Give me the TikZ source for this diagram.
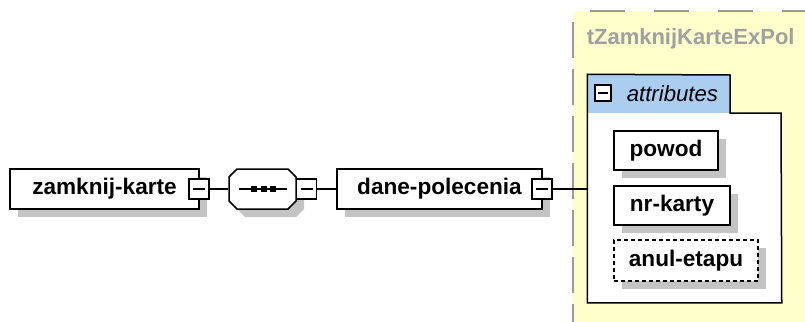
\documentclass[tikz,border=0pt]{standalone}
\usepackage{fontspec}
\setmainfont{Liberation Sans}
\usetikzlibrary{shadows}
\definecolor{shadowgray}{HTML}{C4C4C4}
\definecolor{yellowbg}{HTML}{FFFFCC}
\definecolor{tabblue}{HTML}{ABCDF0}
\definecolor{framegray}{HTML}{9A9A9A}
\definecolor{titlegray}{HTML}{A0A0A0}
\begin{document}
\begin{tikzpicture}[x=1pt,y=-1pt,line width=1.5pt,
  elbox/.style={draw, fill=white, inner sep=0, minimum height=40pt,
    font=\fontsize{22.6}{26}\selectfont\bfseries,
    drop shadow={shadow xshift=8pt, shadow yshift=-8pt, fill=shadowgray, opacity=1}},
  optbox/.style={elbox, dash pattern=on 4pt off 3pt},
  minusbox/.style={draw, fill=white, inner sep=0, minimum size=20pt,
    path picture={\draw[line width=1.2pt]
      ([xshift=-6pt]path picture bounding box.center) --
      ([xshift=6pt]path picture bounding box.center);}},
  tabminus/.style={draw, fill=white, inner sep=0, minimum size=16pt,
    path picture={\draw[line width=1.2pt]
      ([xshift=-5pt]path picture bounding box.center) --
      ([xshift=5pt]path picture bounding box.center);}},
]
\useasboundingbox (0,0) rectangle (805,321);
\fill[white] (0,0) rectangle (805,321);

% complex type area
\fill[yellowbg] (573,11) rectangle (830,340);
\draw[framegray, line width=2pt, dash pattern=on 36pt off 11pt] (573,340) -- (573,11);
\draw[framegray, line width=2pt, dash pattern=on 0pt off 17pt on 35pt off 12pt] (573,11) -- (830,11);
\node[anchor=base west, text=titlegray, font=\fontsize{22}{26}\selectfont\bfseries, inner sep=0] (title) at (586,45) {tZamknijKarteExPol};

% attributes group
\node[inner sep=0, minimum width=193pt, minimum height=227pt] (attrs) at (684.5,188.5) {};
\fill[tabblue] (588,75) rectangle (730,113);
\fill[white] (588,113) rectangle (781,302);
\draw (attrs.south west) -- (attrs.north west) -- (730,75) -- (730,113) -- (781,113) -- (attrs.south east) -- cycle;
\node[tabminus] (attrm) at (603,93) {};
\node[anchor=base west, inner sep=0, font=\fontsize{22.2}{26}\selectfont\itshape] (attrlbl) at (626,101) {attributes};

\node[elbox, minimum width=104pt, minimum height=39pt] (powod) at (666,150.5) {powod};
\node[elbox, minimum width=116pt, minimum height=39pt] (nrk) at (672,205.5) {nr-karty};
\node[optbox, minimum width=144pt, minimum height=41pt] (anul) at (686,260.5) {anul-etapu};

% root element
\node[elbox, minimum width=189pt] (zk) at (104.5,189) {zamknij-karte};
\node[minusbox] (zkm) at (199,189) {};

% sequence compositor
\node[inner sep=0, minimum width=67pt, minimum height=40pt] (seq) at (262.5,189) {};
\fill[shadowgray, shift={(8,8)}] (237,169) -- (288,169) -- (296,177) -- (296,201) -- (288,209) -- (237,209) -- (229,201) -- (229,177) -- cycle;
\draw[fill=white] (237,169) -- (288,169) -- (296,177) -- (296,201) -- (288,209) -- (237,209) -- (229,201) -- (229,177) -- cycle;
\draw (239,189) -- (287,189);
\fill (250.5,186) rectangle (256.5,192);
\fill (260.5,186) rectangle (266.5,192);
\fill (270,186) rectangle (276,192);
\node[minusbox] (seqm) at (306.5,189) {};

% child element
\node[elbox, minimum width=205pt] (dp) at (439.5,189) {dane-polecenia};
\node[minusbox] (dpm) at (542,189) {};

% connectors
\draw (zkm.east) -- (seq.west);
\draw (seqm.east) -- (dp.west);
\draw (dpm.east) -- (dpm.east -| attrs.west);
\end{tikzpicture}
\end{document}
